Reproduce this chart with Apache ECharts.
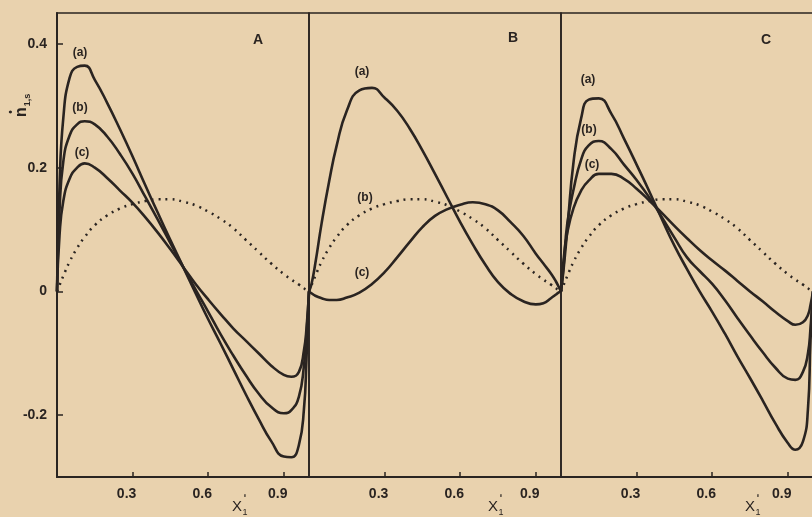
<!DOCTYPE html>
<html>
<head>
<meta charset="utf-8">
<script src="https://cdn.jsdelivr.net/npm/echarts@6/dist/echarts.min.js"></script>
<style>
  html, body { margin: 0; padding: 0; background: #e9d2ae; }
  #chart { width: 812px; height: 517px; }
</style>
</head>
<body>
<div id="chart"></div>
<script>
// x positions shared by every curve (reduced coordinate, 0..1 in each panel)
const xGrid = [0, 0.01, 0.025, 0.05, 0.08, 0.11, 0.15, 0.2, 0.25, 0.3, 0.35, 0.4, 0.45, 0.5,
  0.55, 0.6, 0.65, 0.7, 0.75, 0.8, 0.85, 0.9, 0.93, 0.96, 0.98, 0.99, 1]

// dotted reference curve, same in all three panels
const dotted = [0, 0.01, 0.025, 0.048, 0.07, 0.088, 0.107, 0.123, 0.134, 0.141, 0.146, 0.149, 0.149, 0.145,
  0.139, 0.129, 0.117, 0.102, 0.083, 0.064, 0.045, 0.028, 0.019, 0.011, 0.005, 0.002, 0]

// panel A
const aA = [0, 0.17, 0.28, 0.345, 0.363, 0.365, 0.342, 0.304, 0.262, 0.218, 0.172, 0.127, 0.083, 0.04,
  -0.003, -0.045, -0.085, -0.126, -0.167, -0.206, -0.242, -0.267, -0.268, -0.248, -0.19, -0.11, 0]
const bA = [0, 0.13, 0.21, 0.252, 0.27, 0.275, 0.27, 0.25, 0.222, 0.19, 0.153, 0.116, 0.078, 0.04,
  0.003, -0.033, -0.07, -0.104, -0.136, -0.165, -0.187, -0.197, -0.192, -0.17, -0.12, -0.07, 0]
const cA = [0, 0.09, 0.146, 0.182, 0.2, 0.207, 0.2, 0.183, 0.163, 0.143, 0.12, 0.095, 0.068, 0.04,
  0.012, -0.013, -0.037, -0.06, -0.08, -0.1, -0.12, -0.135, -0.138, -0.13, -0.095, -0.06, 0]

// panel B
const aB = [0, 0.012, 0.045, 0.11, 0.178, 0.236, 0.292, 0.325, 0.329, 0.313, 0.292, 0.263, 0.228, 0.19,
  0.151, 0.112, 0.076, 0.043, 0.015, -0.004, -0.016, -0.021, -0.019, -0.011, -0.005, -0.002, 0]
const cB = [0, -0.003, -0.007, -0.011, -0.014, -0.014, -0.01, -0.002, 0.012, 0.031, 0.055, 0.08, 0.104, 0.122,
  0.133, 0.14, 0.144, 0.141, 0.131, 0.112, 0.09, 0.061, 0.045, 0.029, 0.016, 0.008, 0]

// panel C
const aC = [0, 0.035, 0.1, 0.21, 0.28, 0.31, 0.312, 0.287, 0.247, 0.205, 0.162, 0.117, 0.074, 0.036,
  0.0, -0.033, -0.068, -0.105, -0.14, -0.176, -0.213, -0.245, -0.256, -0.243, -0.19, -0.08, 0]
const bC = [0, 0.04, 0.11, 0.165, 0.213, 0.236, 0.243, 0.23, 0.205, 0.18, 0.152, 0.12, 0.087, 0.055,
  0.033, 0.012, -0.014, -0.043, -0.071, -0.098, -0.123, -0.141, -0.143, -0.13, -0.1, -0.06, 0]
const cC = [0, 0.05, 0.095, 0.135, 0.163, 0.179, 0.19, 0.19, 0.182, 0.166, 0.147, 0.127, 0.106, 0.086,
  0.067, 0.05, 0.034, 0.017, 0, -0.016, -0.033, -0.048, -0.054, -0.05, -0.038, -0.022, 0]

// tick labels
const xTicks = [0.3, 0.6, 0.9]
const yTicks = [-0.2, 0, 0.2, 0.4]
const panelNames = ['A', 'B', 'C']

const ink = '#2a2421'
const font = 'Liberation Sans'

const pairs = ys => xGrid.map((x, i) => [x, ys[i]])

const panels = [
  { left: 57, solid: [aA, bA, cA] },
  { left: 309, solid: [aB, cB] },
  { left: 561, solid: [aC, bC, cC] }
]

const grid = panels.map(p => ({
  left: p.left, top: 13, width: 252, height: 464,
  show: true, borderColor: ink, borderWidth: 1.6,
  containLabel: false, outerBoundsMode: 'none'
}))

const xAxis = panels.map((p, i) => ({
  type: 'value', gridIndex: i, min: 0, max: 1,
  axisLine: { show: true, onZero: false, lineStyle: { color: ink, width: 2 } },
  axisTick: { show: true, inside: true, length: 5, customValues: xTicks, lineStyle: { color: ink, width: 1.5 } },
  axisLabel: {
    customValues: xTicks, margin: 10, padding: [0, 12, 0, 0],
    color: ink, fontSize: 14, fontWeight: 'bold', fontFamily: font
  },
  splitLine: { show: false }
}))

const yAxis = panels.map((p, i) => ({
  type: 'value', gridIndex: i, min: -0.3, max: 0.45,
  axisLine: { show: i === 0, onZero: false, lineStyle: { color: ink, width: 2 } },
  axisTick: { show: i === 0, inside: true, length: 6, customValues: yTicks, lineStyle: { color: ink, width: 1.5 } },
  axisLabel: {
    show: i === 0, customValues: yTicks, margin: 10, padding: [10, 0, 0, 0],
    color: ink, fontSize: 14, fontWeight: 'bold', fontFamily: font,
    formatter: v => (v === 0 ? '0' : v.toFixed(1))
  },
  splitLine: { show: false }
}))

const series = []
panels.forEach((p, i) => {
  series.push({
    type: 'line', xAxisIndex: i, yAxisIndex: i, data: pairs(dotted),
    symbol: 'none', smooth: 0.5,
    lineStyle: { color: ink, width: 2.5, type: [2, 5] }
  })
  p.solid.forEach(ys => {
    series.push({
      type: 'line', xAxisIndex: i, yAxisIndex: i, data: pairs(ys),
      symbol: 'none', smooth: 0.5,
      lineStyle: { color: ink, width: 2.6 }
    })
  })
})

// curve and panel annotations
const curveLabels = [
  ['(a)', 80, 53], ['(b)', 80, 108], ['(c)', 82, 153],
  ['(a)', 362, 72], ['(b)', 365, 198], ['(c)', 362, 273],
  ['(a)', 588, 80], ['(b)', 589, 130], ['(c)', 592, 165]
]
const panelPos = [[258, 40], [513, 38], [766, 40]]
const xNamePos = [[237, 507], [493, 507], [750, 507]]

const graphic = []
curveLabels.forEach(([t, x, y]) => graphic.push({
  type: 'text', x, y,
  style: { text: t, fill: ink, font: 'bold 12px ' + font, textAlign: 'center', textVerticalAlign: 'middle' }
}))
panelNames.forEach((t, i) => graphic.push({
  type: 'text', x: panelPos[i][0], y: panelPos[i][1],
  style: { text: t, fill: ink, font: 'bold 14px ' + font, textAlign: 'center', textVerticalAlign: 'middle' }
}))
xNamePos.forEach(([x, y]) => graphic.push({
  type: 'group', x, y,
  children: [
    { type: 'text', x: 0, y: 0, style: { text: 'X', fill: ink, font: '15px ' + font, textAlign: 'center', textVerticalAlign: 'middle' } },
    { type: 'text', x: 8, y: -8, style: { text: 'ʹ', fill: ink, font: 'bold 10px ' + font, textAlign: 'center', textVerticalAlign: 'middle' } },
    { type: 'text', x: 8, y: 6, style: { text: '1', fill: ink, font: '9px ' + font, textAlign: 'center', textVerticalAlign: 'middle' } }
  ]
}))
// y axis title n*_{1,s}, rotated
graphic.push({
  type: 'group', x: 22, y: 108, rotation: Math.PI / 2,
  children: [
    { type: 'text', x: -4, y: 0, style: { text: 'n', fill: ink, font: 'bold 16px ' + font, textAlign: 'center', textVerticalAlign: 'middle' } },
    { type: 'text', x: -4, y: -11, style: { text: '•', fill: ink, font: 'bold 10px ' + font, textAlign: 'center', textVerticalAlign: 'middle' } },
    { type: 'text', x: 8, y: 6, style: { text: '1,s', fill: ink, font: 'bold 9px ' + font, textAlign: 'center', textVerticalAlign: 'middle' } }
  ]
})

const chart = echarts.init(document.getElementById('chart'))
chart.setOption({
  backgroundColor: '#e9d2ae',
  animation: false,
  grid, xAxis, yAxis, series, graphic
})
</script>
</body>
</html>
